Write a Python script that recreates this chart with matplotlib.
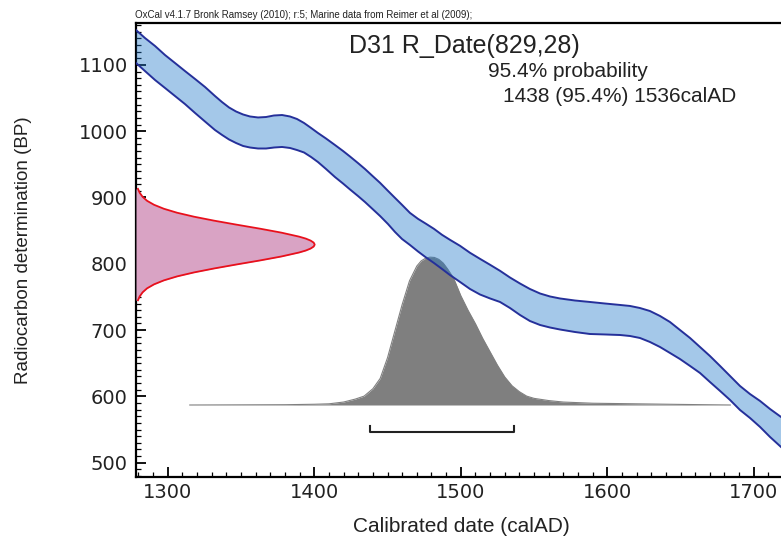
import matplotlib
matplotlib.use("Agg")
import matplotlib.pyplot as plt
from matplotlib.ticker import MultipleLocator
import matplotlib.font_manager as fm

# ---------------- data ----------------
# calibration curve band (calAD vs BP)
curve_years = [1278.3, 1284.4, 1291.3, 1298.1, 1304.9, 1311.7, 1318.6, 1325.4, 1332.2, 1337.0,
               1341.8, 1346.6, 1351.4, 1356.1, 1361.6, 1367.1, 1372.5, 1378.0, 1383.4, 1388.2,
               1393.0, 1397.8, 1402.5, 1408.0, 1414.1, 1419.6, 1424.4, 1429.8, 1434.6, 1439.4,
               1444.9, 1450.3, 1455.1, 1459.9, 1465.3, 1470.8, 1476.3, 1481.7, 1487.2, 1492.6,
               1499.5, 1506.3, 1513.1, 1520.0, 1526.8, 1533.6, 1540.4, 1547.2, 1554.1, 1560.9,
               1567.7, 1578.0, 1588.2, 1598.4, 1608.7, 1615.5, 1622.3, 1629.1, 1636.0, 1642.8,
               1649.6, 1656.5, 1663.3, 1670.1, 1677.0, 1683.8, 1690.6, 1697.4, 1704.3, 1711.1,
               1718.6]
curve_upper = [1152.6, 1140.6, 1128.5, 1114.9, 1102.9, 1090.8, 1078.8, 1066.7, 1053.1, 1044.0,
               1035.8, 1029.7, 1025.2, 1022.2, 1020.7, 1021.4, 1023.7, 1024.4, 1022.2, 1018.4,
               1012.4, 1004.9, 997.3, 989.0, 979.2, 970.2, 961.8, 952.0, 943.0, 933.2,
               922.1, 910.0, 899.4, 888.9, 876.8, 867.8, 860.3, 852.7, 843.7, 836.2,
               827.1, 816.6, 807.5, 798.5, 789.4, 779.3, 770.3, 762.0, 755.2, 750.7,
               747.7, 744.6, 742.4, 740.1, 737.9, 736.4, 733.3, 728.8, 721.3, 712.2,
               700.2, 688.1, 674.5, 660.9, 645.9, 630.8, 615.7, 603.6, 593.1, 581.0,
               569.0]
curve_lower = [1102.9, 1090.8, 1077.2, 1065.2, 1053.1, 1041.0, 1027.5, 1014.6, 1001.8, 994.4,
               987.5, 982.2, 977.7, 975.4, 973.9, 973.9, 975.4, 976.2, 974.7, 971.6,
               967.9, 961.1, 953.5, 943.0, 930.9, 921.1, 912.1, 902.3, 893.2, 883.4,
               872.1, 860.0, 848.0, 837.4, 828.4, 818.6, 809.5, 801.2, 792.2, 783.1,
               772.6, 762.0, 753.7, 747.7, 742.4, 733.3, 722.8, 713.7, 707.7, 703.9,
               700.9, 697.1, 694.1, 693.4, 692.6, 691.1, 688.1, 682.1, 674.5, 665.5,
               656.4, 645.9, 635.3, 621.7, 608.2, 594.6, 579.5, 567.5, 553.9, 538.8,
               523.7]

# radiocarbon measurement R_Date(829,28): BP vs relative probability
red_bp = [913, 907, 901, 895, 889, 883, 877, 871, 865, 859, 853, 847, 841, 838, 835,
          832, 829, 826, 823, 820, 817, 811, 805, 799, 793, 787, 781, 775, 769, 763,
          757, 751, 745]
red_prob = [0.011, 0.021, 0.037, 0.062, 0.101, 0.156, 0.230, 0.325, 0.438, 0.563, 0.693,
            0.813, 0.912, 0.950, 0.977, 0.994, 1.0, 0.994, 0.977, 0.950, 0.912, 0.813,
            0.693, 0.563, 0.438, 0.325, 0.230, 0.156, 0.101, 0.062, 0.037, 0.021, 0.011]

# calibrated date distribution: calAD vs relative probability
cal_years = [1315, 1380, 1400, 1410, 1420, 1428, 1434, 1440, 1445, 1450, 1455, 1460,
             1465, 1470, 1473, 1476, 1479, 1482, 1485, 1488, 1491, 1495, 1500, 1505,
             1510, 1515, 1520, 1525, 1530, 1535, 1540, 1545, 1550, 1560, 1570, 1590,
             1620, 1650, 1684]
cal_prob = [0.0, 0.002, 0.005, 0.008, 0.02, 0.04, 0.06, 0.11, 0.18, 0.32, 0.50, 0.68,
            0.84, 0.94, 0.975, 0.993, 1.0, 0.998, 0.985, 0.96, 0.92, 0.86, 0.74, 0.64,
            0.55, 0.45, 0.36, 0.27, 0.19, 0.13, 0.09, 0.06, 0.045, 0.03, 0.02, 0.012,
            0.008, 0.004, 0.0]

range_95 = [1438, 1536]

x_ticks = [1300, 1400, 1500, 1600, 1700]
y_ticks = [500, 600, 700, 800, 900, 1000, 1100]

# ---------------- layout ----------------
W, H = 781, 548
fig = plt.figure(figsize=(W / 100, H / 100), dpi=100)
ax = fig.add_axes([136 / W, 1 - 477 / H, 1 - 136 / W, (477 - 23) / H])
ax.set_xlim(1278.3, 1718.6)
ax.set_ylim(478.4, 1163.2)

names = {f.name for f in fm.fontManager.ttflist}
main_font = "Liberation Sans" if "Liberation Sans" in names else "DejaVu Sans"
narrow_font = "Liberation Sans Narrow" if "Liberation Sans Narrow" in names else main_font
plt.rcParams["font.family"] = [main_font, "DejaVu Sans"]

# calibrated distribution (grey)
base_bp, height_bp = 587, 223
grey_top = [base_bp + p * height_bp for p in cal_prob]
ax.fill_between(cal_years, base_bp, grey_top, color="#7f7f7f", lw=0, zorder=2)
ax.plot(cal_years, grey_top, color="#808080", lw=0.8, zorder=2)

# calibration curve band
ax.fill_between(curve_years, curve_lower, curve_upper, color=(28 / 255, 118 / 255, 202 / 255),
                alpha=0.4, lw=0, zorder=3)
ax.plot(curve_years, curve_upper, color="#25309a", lw=1.4, zorder=4, solid_joinstyle="round")
ax.plot(curve_years, curve_lower, color="#25309a", lw=1.4, zorder=4, solid_joinstyle="round")

# radiocarbon measurement (red)
x0, width_yr = 1278.3, 122.0
red_x = [x0 + p * width_yr for p in red_prob]
ax.fill_betweenx(red_bp, x0, red_x, color="#d9a3c4", lw=0, zorder=3)
ax.plot(red_x, red_bp, color="#e8101c", lw=1.3, zorder=4, solid_joinstyle="round")

# 95.4% range bracket
yb, tick_h = 546, 9
ax.plot([range_95[0], range_95[0], range_95[1], range_95[1]],
        [yb + tick_h, yb, yb, yb + tick_h], color="#222222", lw=1.5, zorder=5)

# axes styling
for s in ["left", "bottom", "top"]:
    ax.spines[s].set_linewidth(1.6)
    ax.spines[s].set_color("black")
ax.spines["right"].set_visible(False)
ax.set_xticks(x_ticks)
ax.set_yticks(y_ticks)
ax.xaxis.set_minor_locator(MultipleLocator(10))
ax.yaxis.set_minor_locator(MultipleLocator(10))
ax.tick_params(which="major", direction="in", length=7.5, width=1.3, labelsize=14,
               labelcolor="#222222", top=False, right=False)
ax.tick_params(which="minor", direction="in", length=3.8, width=0.9, top=False, right=False)
ax.tick_params(axis="y", pad=6)
ax.tick_params(axis="x", pad=4)

# texts
def ftxt(x, y, s, **kw):
    fig.text(x / W, 1 - y / H, s, **kw)

ftxt(135, 18, "OxCal v4.1.7 Bronk Ramsey (2010); r:5; Marine data from Reimer et al (2009);",
     fontsize=7, family=[narrow_font, main_font], color="#222222", va="baseline", ha="left")
ftxt(349, 53, "D31 R_Date(829,28)", fontsize=18, color="#222222", va="baseline", ha="left")
ftxt(488, 77, "95.4% probability", fontsize=15, color="#222222", va="baseline", ha="left")
ftxt(503, 102, "1438 (95.4%) 1536calAD", fontsize=15, color="#222222", va="baseline", ha="left")
ftxt(461, 527, "Calibrated date (calAD)", fontsize=15, color="#222222", va="center", ha="center")
ftxt(24, 250, "Radiocarbon determination (BP)", fontsize=13.5, color="#222222", va="center",
     ha="center", rotation=90)

fig.savefig("out.png", dpi=100)
